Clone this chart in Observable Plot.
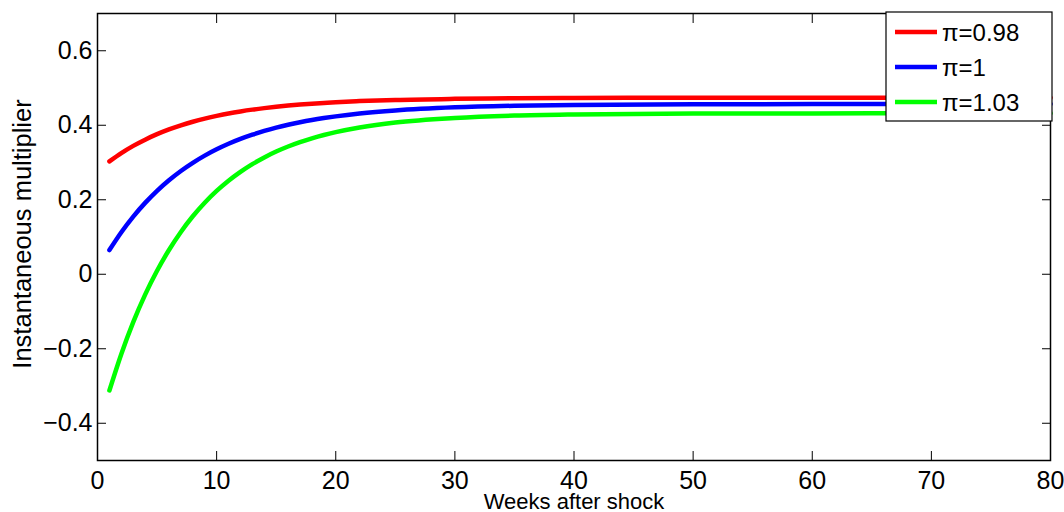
<!DOCTYPE html>
<html><head><meta charset="utf-8">
<script src="https://cdn.jsdelivr.net/npm/d3@7"></script>
<script src="https://cdn.jsdelivr.net/npm/@observablehq/plot@0.6"></script>
<style>
body{margin:0;background:#fff;font-family:"Liberation Sans",Arial,sans-serif;}
#wrap{position:relative;width:1064px;height:512px;}
#legend{position:absolute;}
</style></head><body><div id="wrap"></div>
<script>
const weeks = [1,2,3,4,5,6,7,8,9,10,11,12,13,14,15,16,17,18,19,20,22,25,30,35,40,50,60,70,80];
const pi098 = [0.3030,0.3252,0.3446,0.3613,0.3760,0.3888,0.3998,0.4095,0.4179,0.4251,0.4316,0.4371,0.4419,0.4460,0.4497,0.4528,0.4555,0.4579,0.4600,0.4619,0.4648,0.4680,0.4709,0.4725,0.4732,0.4738,0.4740,0.4740,0.4740];
const pi1 = [0.0650,0.1128,0.1548,0.1916,0.2240,0.2524,0.2773,0.2992,0.3185,0.3354,0.3502,0.3632,0.3746,0.3847,0.3935,0.4012,0.4080,0.4140,0.4192,0.4238,0.4315,0.4398,0.4480,0.4523,0.4546,0.4563,0.4568,0.4570,0.4570];
const pi103 = [-0.3120,-0.2138,-0.1284,-0.0546,0.0094,0.0651,0.1136,0.1556,0.1920,0.2236,0.2510,0.2748,0.2956,0.3137,0.3294,0.3430,0.3548,0.3650,0.3739,0.3816,0.3941,0.4075,0.4196,0.4260,0.4290,0.4313,0.4318,0.4320,0.4320];
const seriesNames = ["π=0.98", "π=1", "π=1.03"];
const seriesColors = ["#ff0000", "#0000ff", "#00ff00"];
const xTicks = [0,10,20,30,40,50,60,70,80];
const yTicks = [-0.4,-0.2,0,0.2,0.4,0.6];
const xLabel = "Weeks after shock";
const yLabel = "Instantaneous multiplier";

const seriesValues = [pi098, pi1, pi103];
const rows = [];
seriesNames.forEach((name, i) => {
  weeks.forEach((w, j) => rows.push({series: name, week: w, value: seriesValues[i][j]}));
});
const fmtY = d => d === 0 ? "0" : (d < 0 ? "\u2212" : "") + Math.abs(d).toFixed(1);

const chart = Plot.plot({
  width: 1064, height: 512,
  marginLeft: 97, marginRight: 14, marginTop: 13, marginBottom: 52,
  style: {fontFamily: "'Liberation Sans', Arial, sans-serif", fontSize: "24px", background: "white", color: "black"},
  x: {domain: [0, 80], label: null},
  y: {domain: [-0.5, 0.7], label: null},
  color: {domain: seriesNames, range: seriesColors},
  marks: [
    Plot.line(rows, {x: "week", y: "value", z: "series", stroke: "series", strokeWidth: 4.5, curve: "monotone-x"}),
    Plot.frame({stroke: "black", strokeWidth: 1.5}),
    Plot.axisX(xTicks, {anchor: "bottom", tickSize: -9, tickPadding: 20, tickFormat: d => String(d), fontSize: 25}),
    Plot.axisX(xTicks, {anchor: "top", tickSize: -9, tickFormat: () => ""}),
    Plot.axisY(yTicks, {anchor: "left", tickSize: -9, tickPadding: 14, tickFormat: fmtY, fontSize: 25}),
    Plot.axisY(yTicks, {anchor: "right", tickSize: -9, tickFormat: () => ""}),
    Plot.text([xLabel], {text: d => d, frameAnchor: "bottom", lineAnchor: "middle", textAnchor: "middle", dy: 41, fontSize: 22}),
    Plot.text([yLabel], {text: d => d, frameAnchor: "left", lineAnchor: "middle", textAnchor: "middle", dx: -75, dy: -3, rotate: -90, fontSize: 25.5})
  ]
});
const wrap = document.getElementById("wrap");
wrap.appendChild(chart);

// legend box
const lg = d3.select(wrap).append("svg").attr("id", "legend")
  .attr("width", 168).attr("height", 111)
  .style("left", "885px").style("top", "11px");
lg.append("rect").attr("x", 1).attr("y", 1).attr("width", 166).attr("height", 109)
  .attr("fill", "white").attr("stroke", "black").attr("stroke-width", 1.2);
seriesNames.forEach((name, i) => {
  const cy = 21 + i * 35;
  lg.append("line").attr("x1", 10).attr("x2", 52).attr("y1", cy).attr("y2", cy)
    .attr("stroke", seriesColors[i]).attr("stroke-width", 4.5);
  lg.append("text").attr("x", 57).attr("y", cy).attr("dy", "0.36em")
    .attr("font-size", 24).attr("font-family", "'Liberation Sans', Arial, sans-serif")
    .text(name);
});
</script></body></html>
